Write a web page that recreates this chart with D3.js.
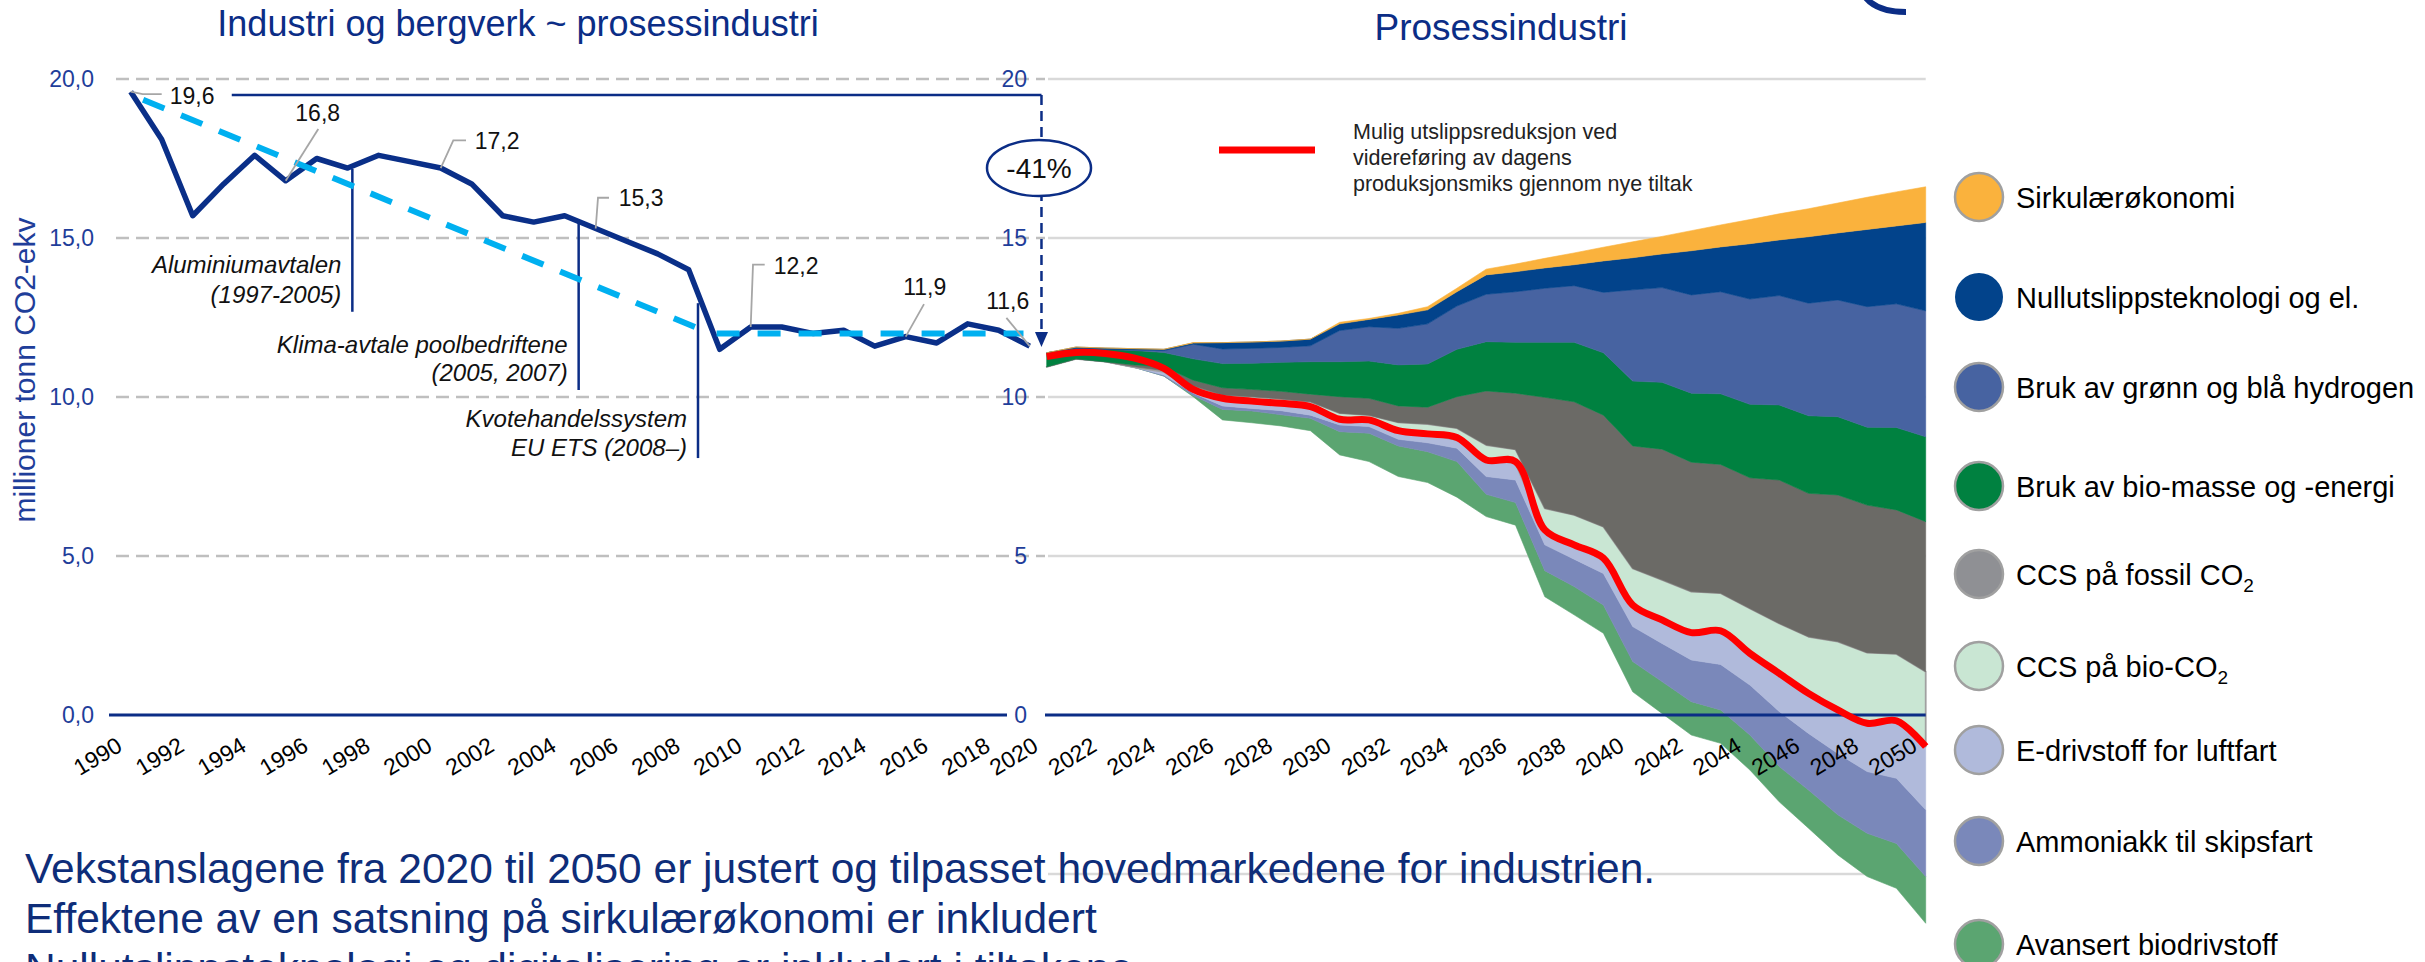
<!DOCTYPE html>
<html>
<head>
<meta charset="utf-8">
<script src="https://d3js.org/d3.v7.min.js"></script>
<style>
  body { margin: 0; background: #fff; }
  svg { display: block; }
  text { font-family: "Liberation Sans", Arial, sans-serif; }
</style>
</head>
<body>
<div id="chart"></div>
<script>
// ---- Data ----
// Historical emissions, industri og bergverk (millioner tonn CO2-ekv)
const histYears = [1990, 1991, 1992, 1993, 1994, 1995, 1996, 1997, 1998, 1999,
                   2000, 2001, 2002, 2003, 2004, 2005, 2006, 2007, 2008, 2009,
                   2010, 2011, 2012, 2013, 2014, 2015, 2016, 2017, 2018, 2019];
const histValues = [19.6, 18.1, 15.7, 16.7, 17.6, 16.8, 17.5, 17.2, 17.6, 17.4,
                    17.2, 16.7, 15.7, 15.5, 15.7, 15.3, 14.9, 14.5, 14.0, 11.5,
                    12.2, 12.2, 12.0, 12.1, 11.6, 11.9, 11.7, 12.3, 12.1, 11.6];
const labelYears = [1990, 1995, 2000, 2005, 2010, 2015, 2019];

// light blue trend lines
const trendYears = [1990.4, 2008.2];
const trendValues = [19.35, 12.2];
const flatYears = [2008.9, 2018.8];
const flatValues = [12.0, 12.0];

// policy annotations
const policyText = [["Aluminiumavtalen", "(1997-2005)"],
                    ["Klima-avtale poolbedriftene", "(2005, 2007)"],
                    ["Kvotehandelssystem", "EU ETS (2008–)"]];
const policyYears = [1997.15, 2004.45, 2008.3];
const policyTop = [17.17, 15.57, 12.95];
const policyBottom = [12.68, 10.22, 8.08];

// Projection 2020-2050, stacked measures on top of a hidden base
const projYears = [2020, 2021, 2022, 2023, 2024, 2025, 2026, 2027, 2028, 2029, 2030,
                   2031, 2032, 2033, 2034, 2035, 2036, 2037, 2038, 2039, 2040,
                   2041, 2042, 2043, 2044, 2045, 2046, 2047, 2048, 2049, 2050];
const base = [10.95, 11.20, 11.11, 10.93, 10.66, 10.01, 9.28, 9.19, 9.09, 8.94, 8.18,
              7.97, 7.50, 7.31, 6.85, 6.24, 5.97, 3.72, 3.15, 2.57, 0.73,
              0.05, -0.63, -0.89, -1.73, -2.73, -3.56, -4.40, -5.08, -5.45, -6.55];
const avansert = [0, 0, 0, 0, 0, 0.04, 0.33, 0.37, 0.35, 0.39, 0.73,
                  0.89, 0.96, 0.97, 1.12, 0.70, 0.71, 0.82, 0.89, 0.89, 0.95,
                  1.00, 1.05, 1.05, 1.10, 1.11, 1.20, 1.26, 1.36, 1.41, 1.47];
const ammoniakk = [0, 0, 0, 0, 0.03, 0.07, 0.11, 0.08, 0.13, 0.10, 0.21,
                   0.21, 0.21, 0.28, 0.42, 0.56, 0.71, 0.81, 0.86, 0.99, 1.10,
                   1.20, 1.31, 1.43, 1.57, 1.73, 1.78, 1.93, 1.94, 2.05, 2.10];
const eDrivstoff = [0, 0, 0, 0, 0.10, 0.10, 0.21, 0.21, 0.21, 0.21, 0.16,
                    0.19, 0.24, 0.25, 0.26, 0.55, 0.52, 0.42, 0.43, 0.47, 0.67,
                    0.74, 0.86, 1.06, 1.00, 1.20, 1.26, 1.37, 1.52, 1.81, 1.99];
const ccsBio = [0, 0, 0, 0.02, 0.04, 0.13, 0.13, 0.16, 0.16, 0.21, 0.21,
                0.17, 0.29, 0.34, 0.37, 0.44, 0.44, 0.73, 0.96, 1.00, 1.16,
                1.26, 1.29, 1.18, 1.41, 1.57, 1.78, 2.15, 2.22, 2.10, 2.35];
const ccsFossil = [0, 0, 0, 0.06, 0.12, 0.18, 0.23, 0.23, 0.24, 0.24, 0.52,
                   0.53, 0.52, 0.53, 0.99, 1.70, 1.77, 3.49, 3.56, 3.51, 3.85,
                   4.11, 4.07, 4.05, 4.11, 4.51, 4.51, 4.61, 4.64, 4.53, 4.72];
const bio = [0.44, 0.33, 0.39, 0.45, 0.45, 0.67, 0.76, 0.82, 0.91, 1.02, 1.10,
             1.17, 1.29, 1.36, 1.49, 1.55, 1.60, 1.73, 1.87, 1.96, 2.04,
             2.10, 2.17, 2.22, 2.31, 2.36, 2.44, 2.46, 2.45, 2.59, 2.67];
const hydrogen = [0, 0, 0, 0.02, 0.06, 0.46, 0.46, 0.47, 0.47, 0.50, 0.98,
                  1.08, 1.15, 1.26, 1.36, 1.49, 1.59, 1.70, 1.78, 1.90, 2.87,
                  2.98, 3.09, 3.21, 3.31, 3.44, 3.54, 3.67, 3.79, 3.89, 3.96];
const nullutslipp = [0, 0.04, 0.04, 0.04, 0.04, 0.04, 0.20, 0.20, 0.20, 0.21, 0.21,
                     0.23, 0.42, 0.44, 0.45, 0.61, 0.63, 0.64, 0.66, 0.99, 1.01,
                     1.06, 1.39, 1.41, 1.74, 1.75, 2.09, 2.11, 2.43, 2.45, 2.78];
const sirkular = [0, 0, 0, 0, 0, 0.01, 0, 0, 0, 0, 0.05,
                  0.03, 0.05, 0.10, 0.11, 0.18, 0.24, 0.30, 0.37, 0.43, 0.50,
                  0.55, 0.63, 0.69, 0.76, 0.82, 0.88, 0.94, 1.01, 1.07, 1.12];
// red line: possible reduction path
const netPath = [11.27, 11.40, 11.37, 11.22, 10.90, 10.24, 9.96, 9.87, 9.80, 9.70, 9.30,
                 9.28, 8.94, 8.84, 8.73, 8.02, 7.97, 5.82, 5.35, 4.93, 3.46,
                 2.99, 2.59, 2.65, 1.94, 1.31, 0.68, 0.16, -0.26, -0.18, -0.99];

const seriesKeys = ["avansert", "ammoniakk", "eDrivstoff", "ccsBio", "ccsFossil",
                    "bio", "hydrogen", "nullutslipp", "sirkular"];
const seriesNames = ["Avansert biodrivstoff", "Ammoniakk til skipsfart", "E-drivstoff for luftfart",
                     "CCS på bio-CO2", "CCS på fossil CO2", "Bruk av bio-masse og -energi",
                     "Bruk av grønn og blå hydrogen", "Nullutslippsteknologi og el.", "Sirkulærøkonomi"];
const seriesColors = ["#5BA571", "#7A88BA", "#B0BADB", "#C9E6D3", "#6B6A66",
                      "#008140", "#4763A1", "#02438B", "#FAB23D"];
const legendColors = ["#5BA571", "#7A88BA", "#B0BADB", "#C9E6D3", "#8F9094",
                      "#008140", "#4763A1", "#02438B", "#FAB23D"];

const valueTicks = [0, 5, 10, 15, 20];
const leftYearTicks = [1990, 1992, 1994, 1996, 1998, 2000, 2002, 2004, 2006, 2008,
                       2010, 2012, 2014, 2016, 2018];
const rightYearTicks = [2020, 2022, 2024, 2026, 2028, 2030, 2032, 2034, 2036, 2038,
                        2040, 2042, 2044, 2046, 2048, 2050];

// ---- Layout ----
const width = 2425, height = 962;
const navy = "#0B2D86", axisBlue = "#1F3E9A";
const legendY = [944, 841, 750, 666, 574, 486, 387, 297, 197]; // same order as seriesKeys
const labelLayout = [
  {dx: 39, dy: 12, anchor: "start", leader: [[0, 0], [12, 2.5], [31, 2.5]]},
  {dx: 32, dy: -60, anchor: "middle", leader: [[0, 0], [32.6, -51.7]]},
  {dx: 34, dy: -19, anchor: "start", leader: [[0, 0], [12.6, -27.7], [25.3, -27.7]]},
  {dx: 23, dy: -22, anchor: "start", leader: [[0, 0], [2.3, -30.7], [13.3, -30.7]]},
  {dx: 23, dy: -53, anchor: "start", leader: [[0, 0], [2.3, -62.4], [14, -62.4]]},
  {dx: 19, dy: -42, anchor: "middle", leader: [[0, 0], [18.3, -32.4]]},
  {dx: -22, dy: -37, anchor: "middle", leader: [[0, 0], [-23.3, -28.3]]}
];
const policyTextY = [[273, 303], [353, 381], [427, 456]];

const svg = d3.select("#chart").append("svg")
              .attr("width", width)
              .attr("height", height);

// scales
const xL = d3.scaleLinear().domain([1990, 2019]).range([130.7, 1029.7]);
const xR = d3.scaleLinear().domain([2020, 2050]).range([1046.7, 1925.7]);
const y = d3.scaleLinear().domain([0, 20]).range([715, 79]);

// titles
svg.append("text").attr("x", 518).attr("y", 36).attr("text-anchor", "middle")
   .style("font-size", "36px").attr("fill", navy)
   .text("Industri og bergverk ~ prosessindustri");
svg.append("text").attr("x", 1501).attr("y", 40).attr("text-anchor", "middle")
   .style("font-size", "37px").attr("fill", navy)
   .text("Prosessindustri");

// small logo arc top right
svg.append("path").attr("d", "M1866,-2 Q1878,12 1906,12")
   .attr("fill", "none").attr("stroke", navy).attr("stroke-width", 6);

// right gridlines (solid)
svg.append("g").selectAll("line")
   .data([-5, 5, 10, 15, 20])
   .join("line")
   .attr("x1", 1048).attr("x2", xR(2050))
   .attr("y1", d => y(d)).attr("y2", d => y(d))
   .attr("stroke", "#D9D9D9").attr("stroke-width", 2.5);

// left gridlines (dashed)
svg.append("g").selectAll("line")
   .data([5, 10, 15, 20])
   .join("line")
   .attr("x1", 116).attr("x2", 1045)
   .attr("y1", d => y(d)).attr("y2", d => y(d))
   .attr("stroke", "#BFBFBF").attr("stroke-width", 2.5)
   .attr("stroke-dasharray", "13,7");

// y axes
function valueAxis(x, fmt) {
  const g = svg.append("g").attr("transform", `translate(${x},0)`)
    .call(d3.axisLeft(y).tickValues(valueTicks).tickSize(0).tickPadding(6).tickFormat(fmt));
  g.select(".domain").remove();
  g.selectAll("text").attr("fill", axisBlue).style("font-size", "23px");
}
valueAxis(100, d => d.toFixed(1).replace(".", ","));
valueAxis(1033, d => d);

svg.append("text")
   .attr("transform", "translate(35,370) rotate(-90)")
   .attr("text-anchor", "middle")
   .style("font-size", "30px").attr("fill", axisBlue)
   .text("millioner tonn CO2-ekv");

// ---- Right: stacked measures ----
const rows = projYears.map((yr, i) => ({
  year: yr, base: base[i], avansert: avansert[i], ammoniakk: ammoniakk[i],
  eDrivstoff: eDrivstoff[i], ccsBio: ccsBio[i], ccsFossil: ccsFossil[i], bio: bio[i],
  hydrogen: hydrogen[i], nullutslipp: nullutslipp[i], sirkular: sirkular[i]
}));
const stacked = d3.stack().keys(["base", ...seriesKeys]).offset(d3.stackOffsetNone)(rows);

const area = d3.area()
  .x(d => xR(d.data.year))
  .y0(d => y(d[0]))
  .y1(d => y(d[1]));

stacked.slice(1).forEach((s, i) => {
  const isCcs = s.key === "ccsBio";
  svg.append("path")
     .datum(s)
     .attr("d", area)
     .attr("fill", seriesColors[i])
     .attr("stroke", isCcs ? "#A0A0A0" : seriesColors[i])
     .attr("stroke-width", isCcs ? 1.8 : 0.6)
     .attr("stroke-linejoin", "round");
});

// zero axes
svg.append("line").attr("x1", 109).attr("x2", 1007).attr("y1", y(0)).attr("y2", y(0))
   .attr("stroke", navy).attr("stroke-width", 3);
svg.append("line").attr("x1", 1045).attr("x2", xR(2050)).attr("y1", y(0)).attr("y2", y(0))
   .attr("stroke", navy).attr("stroke-width", 3);

// red path
svg.append("path")
   .datum(netPath)
   .attr("d", d3.line().x((d, i) => xR(projYears[i])).y(d => y(d)).curve(d3.curveCatmullRom.alpha(0.5)))
   .attr("fill", "none").attr("stroke", "#FF0000").attr("stroke-width", 7)
   .attr("stroke-linecap", "butt");

// year axes
function yearAxis(scale, ticks) {
  const g = svg.append("g").attr("transform", `translate(0,${y(0)})`)
    .call(d3.axisBottom(scale).tickValues(ticks).tickFormat(d3.format("d")).tickSize(0));
  g.select(".domain").remove();
  g.selectAll("text")
   .attr("y", null).attr("dy", null)
   .attr("text-anchor", "end")
   .attr("transform", "translate(-7.5,35) rotate(-31)")
   .attr("fill", "#000")
   .style("font-size", "23px");
}
yearAxis(xL, leftYearTicks);
yearAxis(xR, rightYearTicks);

// ---- Left: history ----
// top bracket line and arrow to 2020
const arrowX = xL(2019.38);
svg.append("line").attr("x1", xL(1993.26)).attr("x2", arrowX)
   .attr("y1", y(19.5)).attr("y2", y(19.5))
   .attr("stroke", navy).attr("stroke-width", 2.5);
svg.append("line").attr("x1", arrowX).attr("x2", arrowX)
   .attr("y1", y(19.5)).attr("y2", 334)
   .attr("stroke", navy).attr("stroke-width", 2.5).attr("stroke-dasharray", "10,6");
svg.append("path")
   .attr("d", `M${arrowX - 6.5},332 L${arrowX + 6.5},332 L${arrowX},347 Z`)
   .attr("fill", navy);
svg.append("ellipse").attr("cx", 1039).attr("cy", 168).attr("rx", 52).attr("ry", 28)
   .attr("fill", "#fff").attr("stroke", navy).attr("stroke-width", 2.5);
svg.append("text").attr("x", 1039).attr("y", 178).attr("text-anchor", "middle")
   .style("font-size", "28px").attr("fill", "#111").text("-41%");

// policy lines
policyYears.forEach((yr, i) => {
  const px = xL(yr);
  svg.append("line").attr("x1", px).attr("x2", px)
     .attr("y1", y(policyTop[i])).attr("y2", y(policyBottom[i]))
     .attr("stroke", navy).attr("stroke-width", 2.5);
  policyText[i].forEach((t, j) => {
    svg.append("text").attr("x", px - 11).attr("y", policyTextY[i][j])
       .attr("text-anchor", "end").style("font-size", "24px").style("font-style", "italic")
       .attr("fill", "#111").text(t);
  });
});

// history line
svg.append("path")
   .datum(histValues)
   .attr("d", d3.line().x((d, i) => xL(histYears[i])).y(d => y(d)))
   .attr("fill", "none").attr("stroke", "#0A2F88").attr("stroke-width", 5.5)
   .attr("stroke-linejoin", "round");

// trend lines
const trendLine = d3.line().x(d => xL(d[0])).y(d => y(d[1]));
[[trendYears, trendValues], [flatYears, flatValues]].forEach(([xs, vs]) => {
  svg.append("path")
     .datum(xs.map((x, i) => [x, vs[i]]))
     .attr("d", trendLine)
     .attr("fill", "none").attr("stroke", "#00B0F0").attr("stroke-width", 6)
     .attr("stroke-dasharray", "23,18");
});

// value labels with leader lines
labelYears.forEach((yr, i) => {
  const idx = histYears.indexOf(yr);
  const px = xL(yr), py = y(histValues[idx]);
  const lay = labelLayout[i];
  svg.append("path")
     .attr("d", d3.line()(lay.leader.map(p => [px + p[0], py + p[1]])))
     .attr("fill", "none").attr("stroke", "#A6A6A6").attr("stroke-width", 1.8);
  svg.append("text").attr("x", px + lay.dx).attr("y", py + lay.dy)
     .attr("text-anchor", lay.anchor).style("font-size", "23px").attr("fill", "#111")
     .text(histValues[idx].toFixed(1).replace(".", ","));
});

// red line legend
svg.append("line").attr("x1", 1219).attr("x2", 1315).attr("y1", 150).attr("y2", 150)
   .attr("stroke", "#FF0000").attr("stroke-width", 7);
["Mulig utslippsreduksjon ved", "videreføring av dagens", "produksjonsmiks gjennom nye tiltak"]
  .forEach((t, j) => {
    svg.append("text").attr("x", 1353).attr("y", 138.5 + j * 26)
       .style("font-size", "21.5px").attr("fill", "#222").text(t);
  });

// series legend
const legend = svg.append("g");
seriesKeys.forEach((k, i) => {
  const ly = legendY[i];
  legend.append("circle").attr("cx", 1979).attr("cy", ly).attr("r", 24)
        .attr("fill", legendColors[i])
        .attr("stroke", k === "nullutslipp" ? "none" : "#A0A0A0")
        .attr("stroke-width", 2.5);
  const t = legend.append("text").attr("x", 2016).attr("y", ly + 11)
        .style("font-size", "29px").attr("fill", "#000");
  const m = seriesNames[i].match(/^(.*CO)2$/);
  if (m) {
    t.append("tspan").text(m[1]);
    t.append("tspan").attr("dy", 7).style("font-size", "19px").text("2");
  } else {
    t.text(seriesNames[i]);
  }
});

// bottom text (third line runs off the bottom edge, as in the original slide)
["Vekstanslagene fra 2020 til 2050 er justert og tilpasset hovedmarkedene for industrien.",
 "Effektene av en satsning på sirkulærøkonomi er inkludert",
 "Nullutslippsteknologi og digitalisering er inkludert i tiltakene"]
  .forEach((t, j) => {
    svg.append("text").attr("x", 25).attr("y", 883 + j * 50)
       .style("font-size", "42.5px").attr("fill", "#0E2D79").text(t);
  });
</script>
</body>
</html>
